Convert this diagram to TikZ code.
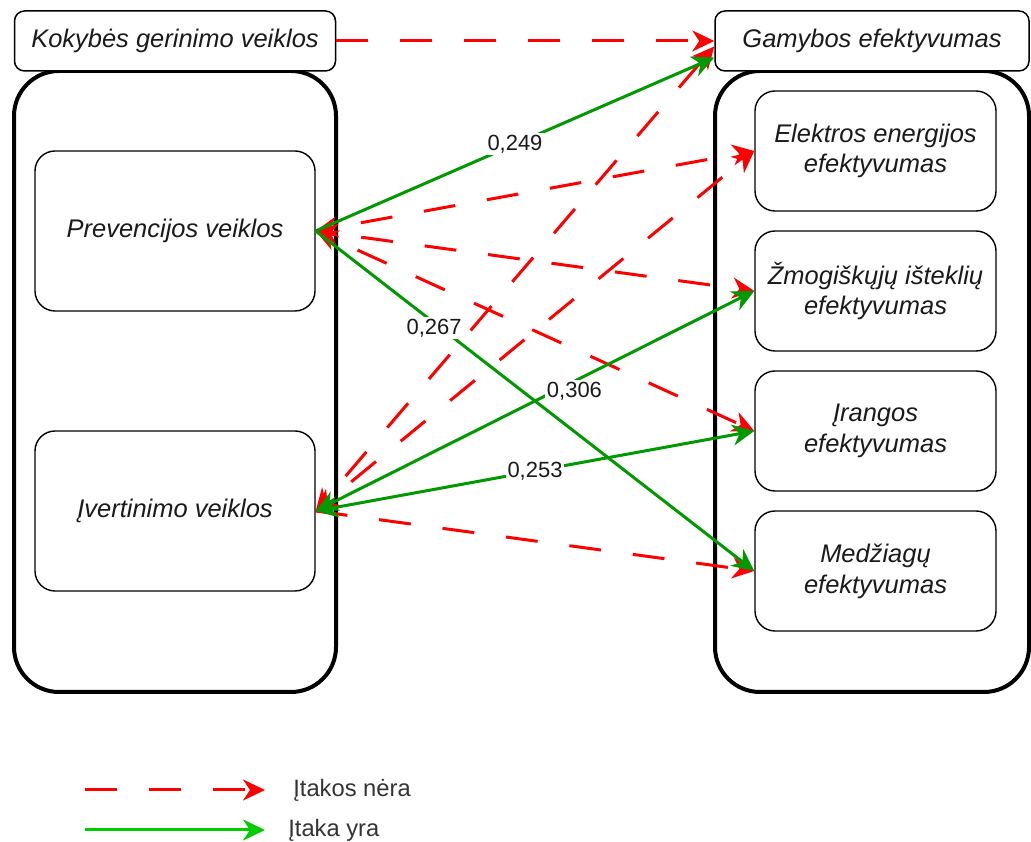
\documentclass[tikz,border=0pt]{standalone}
\usepackage{fontspec}
\setmainfont{Liberation Sans}
\usepackage{tikz}
\usetikzlibrary{arrows.meta}
\definecolor{noeff}{HTML}{FF0000}
\definecolor{haseff}{HTML}{009900}
\definecolor{legendgreen}{HTML}{00CC00}
\definecolor{ink}{HTML}{1A1A1A}
\definecolor{leggray}{HTML}{333333}

\begin{document}
\begin{tikzpicture}[
    font=\fontsize{14.5}{17.5}\selectfont\itshape,
    >={Stealth[length=4.4mm, width=4.2mm, inset=1.4mm]},
    grpbox/.style={draw=black, line width=0.8mm, rounded corners=9mm, minimum height=12.42cm},
    headbox/.style={draw=black, fill=white, line width=0.3mm, rounded corners=2mm, minimum height=1.2cm, text=ink},
    actbox/.style={draw=black, fill=white, line width=0.8pt, rounded corners=4mm, align=center, text=ink},
    nolink/.style={draw=noeff, line width=0.6mm, dash pattern=on 6.4mm off 6.4mm},
    yeslink/.style={draw=haseff, line width=0.6mm},
    coef/.style={fill=white, inner sep=1pt, text=ink, font=\fontsize{12.5}{15}\selectfont\upshape},
    legtext/.style={anchor=west, inner sep=0pt, text=leggray, font=\fontsize{13.5}{16}\selectfont\upshape}
  ]
  \useasboundingbox (0,0) rectangle (20.62,16.84);

  \node[grpbox, minimum width=6.44cm] (leftgrp) at (3.50,9.21) {};
  \node[grpbox, minimum width=6.28cm] (rightgrp) at (17.44,9.21) {};

  \node[headbox, minimum width=6.42cm] (kok) at (3.50,16.02) {Kokybės gerinimo veiklos};
  \node[headbox, minimum width=6.28cm] (gam) at (17.44,16.02) {Gamybos efektyvumas};

  \node[actbox, minimum width=5.6cm, minimum height=3.2cm] (prev) at (3.50,12.22) {Prevencijos veiklos};
  \node[actbox, minimum width=5.6cm, minimum height=3.2cm] (ivert) at (3.50,6.62) {Įvertinimo veiklos};

  \node[actbox, minimum width=4.82cm, minimum height=2.4cm] (elek) at (17.51,13.82) {Elektros energijos\\efektyvumas};
  \node[actbox, minimum width=4.82cm, minimum height=2.4cm] (zmog) at (17.51,11.02) {Žmogiškųjų išteklių\\efektyvumas};
  \node[actbox, minimum width=4.82cm, minimum height=2.4cm] (iran) at (17.51,8.22) {Įrangos\\efektyvumas};
  \node[actbox, minimum width=4.82cm, minimum height=2.4cm] (medz) at (17.51,5.42) {Medžiagų\\efektyvumas};

  \draw[nolink, ->] (kok.east) -- (gam.west);

  \draw[nolink, <->, dash phase=6.4mm] (prev.east) -- (elek.west);
  \draw[nolink, <->, dash phase=6.4mm] (prev.east) -- (zmog.west);
  \draw[nolink, <->, dash phase=6.4mm] (prev.east) -- (iran.west);
  \draw[nolink, <->, dash phase=6.4mm] (ivert.east) -- (gam.182);
  \draw[nolink, <->, dash phase=6.4mm] (ivert.east) -- (elek.west);
  \draw[nolink, ->] (ivert.east) -- (medz.west);

  \draw[yeslink, ->] (prev.east) -- node[coef] {0,249} (gam.186);
  \draw[yeslink, ->] (prev.east) -- node[coef, pos=0.27, yshift=-0.1cm] {0,267} (medz.west);
  \draw[yeslink, <->] (ivert.east) -- node[coef, pos=0.59, yshift=-0.2cm] {0,306} (zmog.west);
  \draw[yeslink, <->] (ivert.east) -- node[coef] {0,253} (iran.west);

  \coordinate (legno1) at (1.70,1.04);
  \coordinate (legno2) at (5.30,1.04);
  \coordinate (legyes1) at (1.70,0.24);
  \coordinate (legyes2) at (5.30,0.24);
  \draw[nolink, ->] (legno1) -- (legno2);
  \draw[yeslink, draw=legendgreen, ->] (legyes1) -- (legyes2);
  \node[legtext] (legnotxt) at (5.86,1.04) {Įtakos nėra};
  \node[legtext] (legyestxt) at (5.76,0.24) {Įtaka yra};
\end{tikzpicture}
\end{document}
